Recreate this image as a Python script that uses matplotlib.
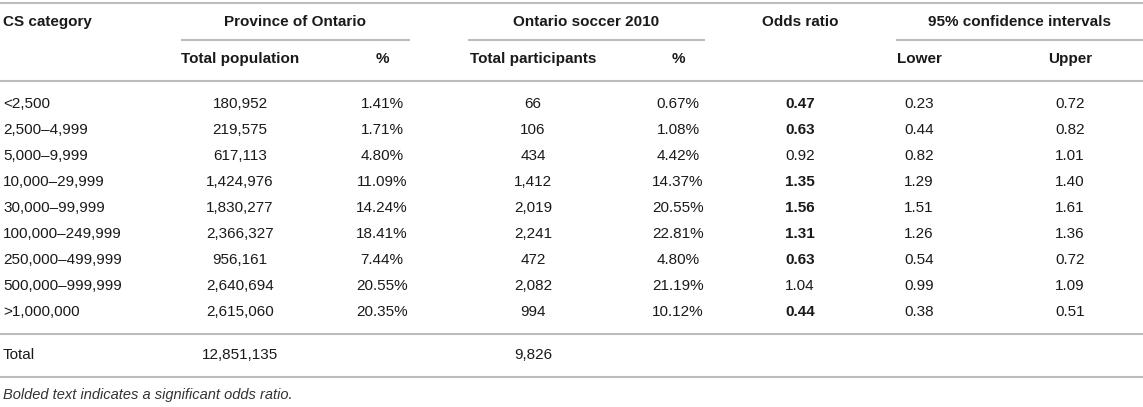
import matplotlib
matplotlib.use("Agg")
import matplotlib.pyplot as plt

# data
categories = ['<2,500', '2,500–4,999', '5,000–9,999', '10,000–29,999', '30,000–99,999',
              '100,000–249,999', '250,000–499,999', '500,000–999,999', '>1,000,000']
pop_total = [180952, 219575, 617113, 1424976, 1830277, 2366327, 956161, 2640694, 2615060]
pop_pct = [1.41, 1.71, 4.80, 11.09, 14.24, 18.41, 7.44, 20.55, 20.35]
soc_total = [66, 106, 434, 1412, 2019, 2241, 472, 2082, 994]
soc_pct = [0.67, 1.08, 4.42, 14.37, 20.55, 22.81, 4.80, 21.19, 10.12]
odds = [0.47, 0.63, 0.92, 1.35, 1.56, 1.31, 0.63, 1.04, 0.44]
significant = [True, True, False, True, True, True, True, False, True]
ci_lower = [0.23, 0.44, 0.82, 1.29, 1.51, 1.26, 0.54, 0.99, 0.38]
ci_upper = [0.72, 0.82, 1.01, 1.40, 1.61, 1.36, 0.72, 1.09, 0.51]
pop_sum = 12851135
soc_sum = 9826

group_headers = ['Province of Ontario', 'Ontario soccer 2010', '95% confidence intervals']
sub_headers = ['Total population', '%', 'Total participants', '%', 'Lower', 'Upper']
footnote = 'Bolded text indicates a significant odds ratio.'

plt.rcParams['font.family'] = ['Liberation Sans', 'DejaVu Sans']
W, H = 1143, 407
fig = plt.figure(figsize=(W / 100, H / 100), dpi=100)
ax = fig.add_axes([0, 0, 1, 1])
ax.set_xlim(0, W)
ax.set_ylim(H, 0)
ax.axis('off')

fs = 11
tc = '#1a1a1a'
lc = '#bcbcbc'
lw = 1.5

# column centres
x_cat = 3
x_cols = [240, 382, 533, 678, 800, 919, 1070]

# header
y_h1, y_h2 = 22, 59
ax.text(x_cat, y_h1, 'CS category', fontsize=fs, fontweight='bold', color=tc, va='center', ha='left')
group_spans = [(181, 410), (468, 705), (896, 1143)]
for name, (a, b) in zip(group_headers, group_spans):
    ax.text((a + b) / 2, y_h1, name, fontsize=fs, fontweight='bold', color=tc, va='center', ha='center')
    ax.plot([a, b], [40, 40], color=lc, lw=lw, solid_capstyle='butt')
ax.text(x_cols[4], y_h1, 'Odds ratio', fontsize=fs, fontweight='bold', color=tc, va='center', ha='center')
for x, name in zip([x_cols[0], x_cols[1], x_cols[2], x_cols[3], x_cols[5], x_cols[6]], sub_headers):
    ax.text(x, y_h2, name, fontsize=fs, fontweight='bold', color=tc, va='center', ha='center')

ax.plot([0, W], [3, 3], color=lc, lw=lw)
ax.plot([0, W], [81, 81], color=lc, lw=lw)

# body
y0, dy = 104.5, 25.9
for i, cat in enumerate(categories):
    y = y0 + i * dy
    cells = [f'{pop_total[i]:,}', f'{pop_pct[i]:.2f}%', f'{soc_total[i]:,}', f'{soc_pct[i]:.2f}%',
             f'{odds[i]:.2f}', f'{ci_lower[i]:.2f}', f'{ci_upper[i]:.2f}']
    ax.text(x_cat, y, cat, fontsize=fs, color=tc, va='center', ha='left')
    for j, (x, c) in enumerate(zip(x_cols, cells)):
        bold = (j == 4 and significant[i])
        ax.text(x, y, c, fontsize=fs, color=tc, va='center', ha='center',
                fontweight='bold' if bold else 'normal')

y_last = y0 + (len(categories) - 1) * dy
y_line1 = y_last + 22
y_total = y_line1 + 21.5
y_line2 = y_total + 21.5
ax.plot([0, W], [y_line1, y_line1], color=lc, lw=lw)
ax.text(x_cat, y_total, 'Total', fontsize=fs, color=tc, va='center', ha='left')
ax.text(x_cols[0], y_total, f'{pop_sum:,}', fontsize=fs, color=tc, va='center', ha='center')
ax.text(x_cols[2], y_total, f'{soc_sum:,}', fontsize=fs, color=tc, va='center', ha='center')
ax.plot([0, W], [y_line2, y_line2], color=lc, lw=lw)

ax.text(x_cat, y_line2 + 18, footnote, fontsize=fs - 0.5, style='italic', color='#333333',
        va='center', ha='left')

fig.savefig('out.png', dpi=100, facecolor='white')
